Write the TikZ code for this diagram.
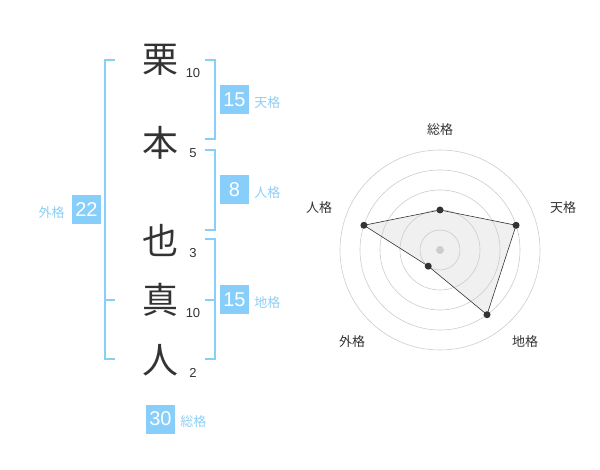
\documentclass[tikz,border=0pt]{standalone}
\usepackage{fontspec}
\setmainfont{Liberation Sans}
\newfontfamily\jp{Noto Sans CJK JP}
\usepackage{xcolor}
\usetikzlibrary{positioning,calc}
\definecolor{kakublue}{HTML}{87CEFA}
\definecolor{kakutext}{HTML}{8CCFF5}
\definecolor{inkgray}{HTML}{333333}

\begin{document}
\begin{tikzpicture}[x=1pt,y=-1pt,
    kanji/.style={font=\jp\fontsize{36}{36}\selectfont, text=inkgray, inner sep=0pt},
    strokes/.style={font=\fontsize{13}{13}\selectfont, text=inkgray, inner sep=0pt},
    kakubox/.style={fill=kakublue, text=white, minimum size=29pt, inner sep=0pt, font=\fontsize{20}{20}\selectfont},
    kakulabel/.style={font=\jp\fontsize{13}{13}\selectfont, text=kakutext, inner sep=0pt},
    bracket/.style={draw=kakublue, line width=2pt},
    ring/.style={draw=gray!40, line width=0.6pt},
    axislabel/.style={font=\jp\fontsize{13}{13}\selectfont, text=inkgray, inner sep=0pt}]
    \useasboundingbox (0,0) rectangle (600,470);

    % Name
    \node [kanji] (k1) at (160,60) {栗};
    \node [kanji] (k2) at (160,143) {本};
    \node [kanji] (k3) at (160,240) {也};
    \node [kanji] (k4) at (160,300) {真};
    \node [kanji] (k5) at (160,360) {人};

    % Strokes
    \node [strokes] (s1) at (193,73) {10};
    \node [strokes] (s2) at (193,153) {5};
    \node [strokes] (s3) at (193,253) {3};
    \node [strokes] (s4) at (193,313) {10};
    \node [strokes] (s5) at (193,373) {2};

    % Brackets
    \draw [bracket] (205,60) -- (215,60) -- (215,139) -- (205,139);
    \draw [bracket] (205,150) -- (215,150) -- (215,230) -- (205,230);
    \draw [bracket] (205,239) -- (215,239) -- (215,359) -- (205,359);
    \draw [bracket] (205,300) -- (215,300);
    \draw [bracket] (115,60) -- (105,60) -- (105,359) -- (115,359);
    \draw [bracket] (105,300) -- (115,300);

    % Kakusu
    \node [kakubox] (ten) at (234.5,100) {15};
    \node [kakulabel, right=5pt of ten, yshift=-3pt] (tenlabel) {天格};
    \node [kakubox] (jin) at (234.5,190) {8};
    \node [kakulabel, right=5pt of jin, yshift=-3pt] (jinlabel) {人格};
    \node [kakubox] (chi) at (234.5,300) {15};
    \node [kakulabel, right=5pt of chi, yshift=-3pt] (chilabel) {地格};
    \node [kakubox] (gai) at (86.5,210) {22};
    \node [kakulabel, left=7pt of gai, yshift=-3pt] (gailabel) {外格};
    \node [kakubox] (sou) at (160.5,419) {30};
    \node [kakulabel, right=5pt of sou, yshift=-3pt] (soulabel) {総格};

    % Radar
    \coordinate (c) at (440,250);
    \foreach \name/\ang/\val in {sou/-90/40, ten/-18/80, chi/54/80, gai/126/20, jin/198/80}
        \coordinate (p-\name) at ($(c)+(\ang:\val)$);
    \fill [gray!12] (p-sou) -- (p-ten) -- (p-chi) -- (p-gai) -- (p-jin) -- cycle;
    \foreach \r in {20,40,60,80,100}
        \draw [ring] (c) circle (\r);
    \draw [inkgray, line width=0.6pt] (p-sou) -- (p-ten) -- (p-chi) -- (p-gai) -- (p-jin) -- cycle;
    \fill [gray!40] (c) circle (4);
    \foreach \name in {sou,ten,chi,gai,jin}
        \fill [inkgray] (p-\name) circle (3.5);

    % Axis labels
    \node [axislabel] (a-sou) at ($(c)+(0,-120)$) {総格};
    \node [axislabel] (a-ten) at ($(c)+(123,-42)$) {天格};
    \node [axislabel] (a-chi) at ($(c)+(85,92)$) {地格};
    \node [axislabel] (a-gai) at ($(c)+(-88,92)$) {外格};
    \node [axislabel] (a-jin) at ($(c)+(-121,-42)$) {人格};
\end{tikzpicture}
\end{document}
